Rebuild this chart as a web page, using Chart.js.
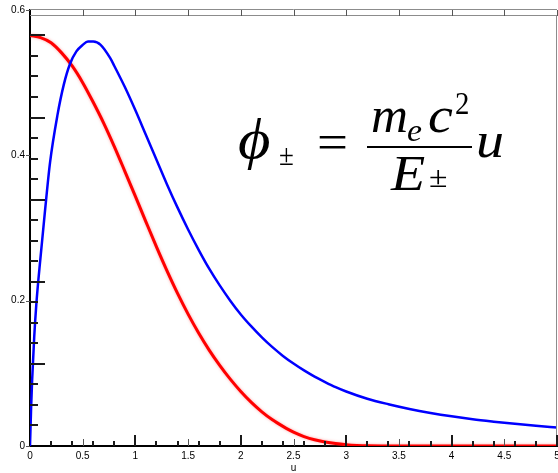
<!DOCTYPE html>
<html>
<head>
<meta charset="utf-8">
<script src="https://cdn.jsdelivr.net/npm/chart.js@4.4.0/dist/chart.umd.min.js"></script>
<style>
  html, body { margin: 0; padding: 0; background: #fff; }
  #wrap { width: 558px; height: 473px; }
</style>
</head>
<body>
<div id="wrap"><canvas id="phi-chart" width="558" height="473"></canvas></div>
<script>
// blue curve, sampled along u
const blueU = [0, 0.01, 0.02, 0.04, 0.06, 0.1, 0.14, 0.19, 0.26, 0.32, 0.38, 0.44, 0.5, 0.55, 0.6, 0.67,
  0.76, 0.8, 0.9, 1.0, 1.1, 1.2, 1.3, 1.4, 1.5, 1.6, 1.7, 1.8, 1.9, 2.0, 2.1, 2.2, 2.3, 2.4, 2.5, 2.6,
  2.7, 2.8, 2.9, 3.0, 3.2, 3.4, 3.6, 3.8, 4.0, 4.2, 4.4, 4.6, 4.8, 5.0];
const blueV = [0, 0.05, 0.09, 0.15, 0.195, 0.26, 0.32, 0.39, 0.455, 0.497, 0.526, 0.543, 0.552, 0.5565, 0.5565, 0.552,
  0.534, 0.523, 0.494, 0.462, 0.428, 0.394, 0.36, 0.328, 0.298, 0.27, 0.244, 0.221, 0.2, 0.181, 0.1645, 0.1495, 0.136, 0.124, 0.1135, 0.104,
  0.0955, 0.088, 0.081, 0.075, 0.065, 0.0575, 0.051, 0.0455, 0.0408, 0.0368, 0.0335, 0.0305, 0.0278, 0.0254];

// red curve
const redU = [0, 0.1, 0.2, 0.3, 0.4, 0.5, 0.6, 0.7, 0.8, 0.9, 1.0, 1.1, 1.2, 1.3, 1.4, 1.5, 1.6, 1.7,
  1.8, 1.9, 2.0, 2.1, 2.2, 2.3, 2.4, 2.5, 2.6, 2.7, 2.8, 2.9, 3.0, 3.1, 3.2, 3.4, 4.0, 5.0];
const redV = [0.565, 0.562, 0.555, 0.541, 0.523, 0.5, 0.473, 0.444, 0.412, 0.378, 0.3435, 0.3085, 0.274, 0.241, 0.21, 0.1815, 0.1555, 0.132,
  0.111, 0.092, 0.075, 0.06, 0.047, 0.036, 0.027, 0.019, 0.013, 0.0085, 0.0055, 0.0033, 0.0018, 0.0008, 0.0002, 0, 0, 0];

const xTickValues = [0, 0.5, 1, 1.5, 2, 2.5, 3, 3.5, 4, 4.5, 5];
const xTickLabels = ['0', '0.5', '1', '1.5', '2', '2.5', '3', '3.5', '4', '4.5', '5'];
const yTickValues = [0, 0.2, 0.4, 0.6];
const yTickLabels = ['0', '0.2', '0.4', '0.6'];

const toPoints = (us, vs) => us.map((u, i) => ({ x: u, y: vs[i] }));

// frame, inward tick marks and the small half-step ticks
const axisMarks = {
  id: 'axisMarks',
  afterDatasetsDraw(chart) {
    const { ctx, chartArea: a, scales: { x, y } } = chart;
    ctx.save();

    ctx.strokeStyle = '#8c8c8c';
    ctx.lineWidth = 1;
    ctx.beginPath();
    ctx.moveTo(a.left, a.top - 0.5); ctx.lineTo(a.right, a.top - 0.5);
    ctx.moveTo(a.left, a.top + 5.5); ctx.lineTo(a.right, a.top + 5.5);
    ctx.moveTo(a.right - 0.5, a.top + 5); ctx.lineTo(a.right - 0.5, a.bottom);
    ctx.stroke();

    // thin ticks every 0.5 on top and bottom
    ctx.strokeStyle = '#555';
    ctx.beginPath();
    for (let k = 1; k <= 10; k++) {
      const px = Math.round(x.getPixelForValue(k * 0.5)) + 0.5;
      ctx.moveTo(px, a.top); ctx.lineTo(px, a.top + 6);
      if (k % 2) { ctx.moveTo(px, a.bottom); ctx.lineTo(px, a.bottom - 7); }
    }
    // little outside ticks at the y labels
    yTickValues.forEach(v => {
      const py = Math.round(y.getPixelForValue(v)) + 0.5;
      ctx.moveTo(a.left - 4, py); ctx.lineTo(a.left, py);
    });
    ctx.stroke();

    // heavy ticks along the bottom: 0.2 steps, longer at integers
    ctx.strokeStyle = '#1a1a1a';
    ctx.lineWidth = 2;
    ctx.beginPath();
    for (let i = 1; i <= 25; i++) {
      const px = Math.round(x.getPixelForValue(i * 0.2));
      const len = i % 5 === 0 ? 11 : 5;
      ctx.moveTo(px, a.bottom); ctx.lineTo(px, a.bottom - len);
    }
    // heavy ticks along the left side, fifths of the red peak
    const step = redV[0] / 20;
    for (let j = 1; j <= 20; j++) {
      const py = Math.round(y.getPixelForValue(j * step));
      const len = j % 4 === 0 ? 15 : 8;
      ctx.moveTo(a.left, py); ctx.lineTo(a.left + len, py);
    }
    ctx.stroke();
    ctx.restore();
  }
};

// soft halo on the red line
const redGlow = {
  id: 'redGlow',
  beforeDatasetDraw(chart, args) {
    if (args.index !== 1) return;
    chart.ctx.save();
    chart.ctx.shadowColor = 'rgba(255,90,90,0.55)';
    chart.ctx.shadowBlur = 3;
  },
  afterDatasetDraw(chart, args) {
    if (args.index === 1) chart.ctx.restore();
  }
};

// draws str at x, stretched a little toward width w if needed
function fitText(ctx, str, font, x, base, w) {
  ctx.font = font;
  const m = ctx.measureText(str).width;
  const sx = Math.max(0.9, Math.min(1.12, w / m));
  ctx.save();
  ctx.translate(x, base);
  ctx.scale(sx, 1);
  ctx.fillText(str, 0, 0);
  ctx.restore();
}

// the formula in the upper right
const formula = {
  id: 'formula',
  afterDraw(chart) {
    const ctx = chart.ctx;
    const it = 'italic 50px "Liberation Serif", "DejaVu Serif", serif';
    const itSub = 'italic 32px "Liberation Serif", serif';
    const up = '50px "Liberation Serif", serif';
    const upSub = '30px "Liberation Serif", serif';
    ctx.save();
    ctx.fillStyle = '#000';
    ctx.textBaseline = 'alphabetic';
    ctx.textAlign = 'left';
    fitText(ctx, 'ϕ', 'italic 56px "Liberation Serif", "DejaVu Serif", serif', 238, 158, 40);
    fitText(ctx, '±', upSub, 279, 165, 14);
    fitText(ctx, '=', up, 317, 159, 31);
    ctx.fillRect(367, 146, 105, 2);
    fitText(ctx, 'm', it, 371, 132, 37);
    fitText(ctx, 'e', itSub, 407, 141, 15);
    fitText(ctx, 'c', it, 428, 132, 30);
    fitText(ctx, '2', '32px "Liberation Serif", serif', 455, 114, 13);
    fitText(ctx, 'E', it, 391, 190, 43);
    fitText(ctx, '±', upSub, 429, 187, 19);
    fitText(ctx, 'u', it, 476, 157, 34);
    ctx.restore();
  }
};

const tickFont = { family: '"Liberation Sans", Arial, sans-serif', size: 10 };

new Chart(document.getElementById('phi-chart'), {
  type: 'line',
  data: {
    datasets: [
      {
        data: toPoints(blueU, blueV),
        borderColor: '#0000ff',
        borderWidth: 2.5,
        pointRadius: 0,
        cubicInterpolationMode: 'monotone'
      },
      {
        data: toPoints(redU, redV),
        borderColor: '#ff0000',
        borderWidth: 3,
        pointRadius: 0,
        cubicInterpolationMode: 'monotone'
      }
    ]
  },
  options: {
    responsive: false,
    animation: false,
    devicePixelRatio: 1,
    layout: { padding: { top: 10, right: 1, left: 0, bottom: 0 } },
    plugins: { legend: { display: false }, tooltip: { enabled: false } },
    scales: {
      x: {
        type: 'linear',
        min: 0,
        max: 5,
        grid: { display: false, drawTicks: false },
        border: { display: true, color: '#000', width: 2 },
        afterBuildTicks: s => { s.ticks = xTickValues.map(v => ({ value: v })); },
        afterFit: s => { s.height = 27; s.paddingLeft = 0; s.paddingRight = 0; },
        ticks: {
          padding: 4,
          color: '#000',
          font: tickFont,
          maxRotation: 0,
          autoSkip: false,
          callback: (v, i) => xTickLabels[i]
        },
        title: {
          display: true,
          text: 'u',
          color: '#000',
          font: { family: tickFont.family, size: 10, lineHeight: 1 },
          padding: { top: 0, bottom: 0 }
        }
      },
      y: {
        type: 'linear',
        min: 0,
        max: 0.6,
        grid: { display: false, drawTicks: false },
        border: { display: true, color: '#000', width: 2 },
        afterBuildTicks: s => { s.ticks = yTickValues.map(v => ({ value: v })); },
        afterFit: s => { s.width = 30; s.paddingTop = 0; s.paddingBottom = 0; },
        ticks: {
          padding: 5,
          color: '#000',
          font: tickFont,
          autoSkip: false,
          callback: (v, i) => yTickLabels[i]
        }
      }
    }
  },
  plugins: [redGlow, axisMarks, formula]
});
</script>
</body>
</html>
